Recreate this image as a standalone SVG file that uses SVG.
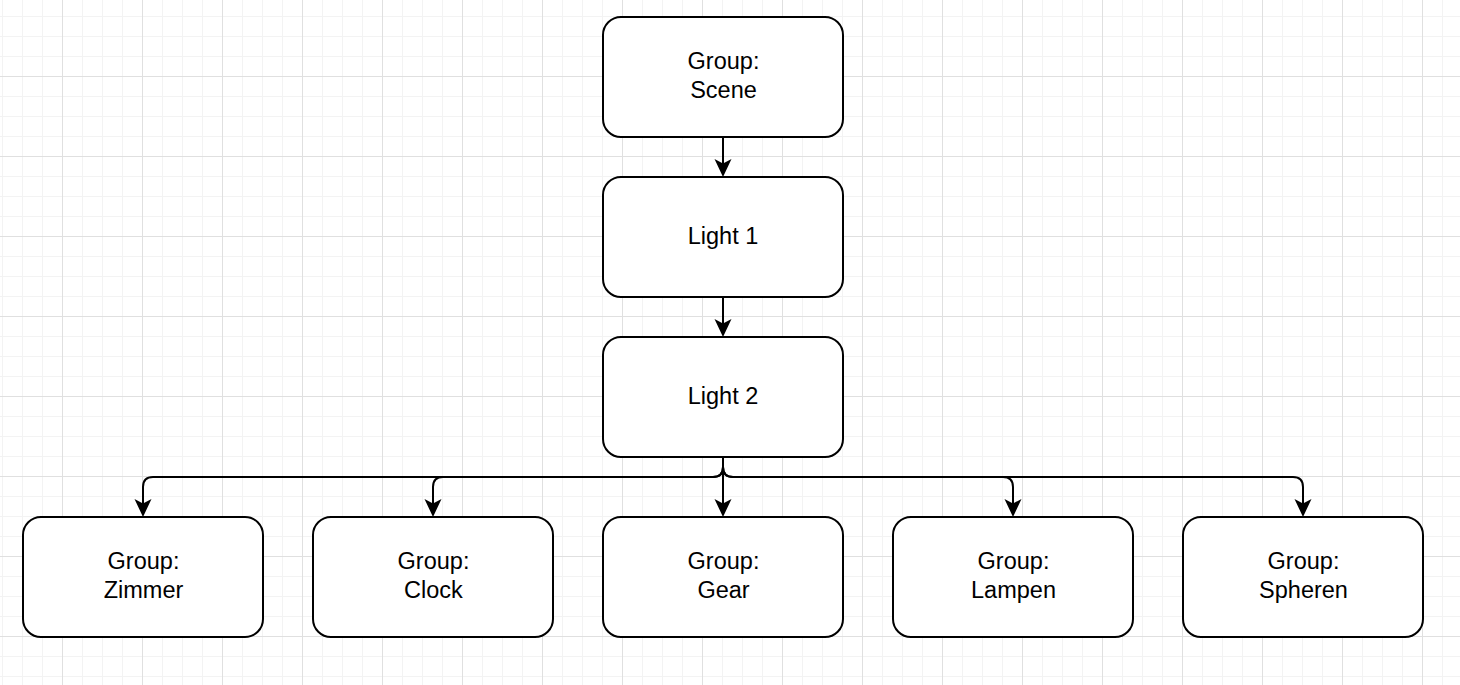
<svg xmlns="http://www.w3.org/2000/svg" width="1460" height="685" viewBox="0 0 1460 685">
  <defs>
    <pattern id="grid" x="2" y="16" width="80" height="80" patternUnits="userSpaceOnUse">
      <path d="M0.5,0 V80 M20.5,0 V80 M40.5,0 V80 M0,0.5 H80 M0,20.5 H80 M0,40.5 H80" stroke="#f3f3f3" stroke-width="1" fill="none"/>
      <path d="M60.5,0 V80 M0,60.5 H80" stroke="#e0e0e0" stroke-width="1" fill="none"/>
    </pattern>
    <marker id="arrow" markerUnits="userSpaceOnUse" viewBox="0 0 18 18" refX="10" refY="9" markerWidth="18" markerHeight="18" orient="auto">
      <path d="M18,9 L0,0.5 L4.5,9 L0,17.5 Z" fill="#000"/>
    </marker>
    <style>
      .node rect { fill: #ffffff; stroke: #000000; stroke-width: 2; }
      .node text { font-family: "Liberation Sans", Arial, Helvetica, sans-serif; font-size: 23.5px; fill: #000; text-anchor: middle; }
      .edge { fill: none; stroke: #000; stroke-width: 2; marker-end: url(#arrow); }
    </style>
  </defs>
  <rect width="1460" height="685" fill="#ffffff"/>
  <rect width="1460" height="685" fill="url(#grid)"/>

  <g id="connectors">
    <path class="edge" d="M723,137 V169"/>
    <path class="edge" d="M723,297 V329"/>
    <path class="edge" d="M723,457 V467 Q723,477 713,477 H153 Q143,477 143,487 V509"/>
    <path class="edge" d="M723,457 V467 Q723,477 713,477 H443 Q433,477 433,487 V509"/>
    <path class="edge" d="M723,457 V509"/>
    <path class="edge" d="M723,457 V467 Q723,477 733,477 H1003 Q1013,477 1013,487 V509"/>
    <path class="edge" d="M723,457 V467 Q723,477 733,477 H1293 Q1303,477 1303,487 V509"/>
  </g>

  <g id="scene" class="node">
    <rect x="603" y="17" width="240" height="120" rx="18" ry="18"/>
    <text x="723.5" y="68.5">Group:</text>
    <text x="723.5" y="97.5">Scene</text>
  </g>
  <g id="light1" class="node">
    <rect x="603" y="177" width="240" height="120" rx="18" ry="18"/>
    <text x="723" y="243.5">Light 1</text>
  </g>
  <g id="light2" class="node">
    <rect x="603" y="337" width="240" height="120" rx="18" ry="18"/>
    <text x="723" y="403.5">Light 2</text>
  </g>
  <g id="zimmer" class="node">
    <rect x="23" y="517" width="240" height="120" rx="18" ry="18"/>
    <text x="143.5" y="568.5">Group:</text>
    <text x="143.5" y="597.5">Zimmer</text>
  </g>
  <g id="clock" class="node">
    <rect x="313" y="517" width="240" height="120" rx="18" ry="18"/>
    <text x="433.5" y="568.5">Group:</text>
    <text x="433.5" y="597.5">Clock</text>
  </g>
  <g id="gear" class="node">
    <rect x="603" y="517" width="240" height="120" rx="18" ry="18"/>
    <text x="723.5" y="568.5">Group:</text>
    <text x="723.5" y="597.5">Gear</text>
  </g>
  <g id="lampen" class="node">
    <rect x="893" y="517" width="240" height="120" rx="18" ry="18"/>
    <text x="1013.5" y="568.5">Group:</text>
    <text x="1013.5" y="597.5">Lampen</text>
  </g>
  <g id="spheren" class="node">
    <rect x="1183" y="517" width="240" height="120" rx="18" ry="18"/>
    <text x="1303.5" y="568.5">Group:</text>
    <text x="1303.5" y="597.5">Spheren</text>
  </g>
</svg>
